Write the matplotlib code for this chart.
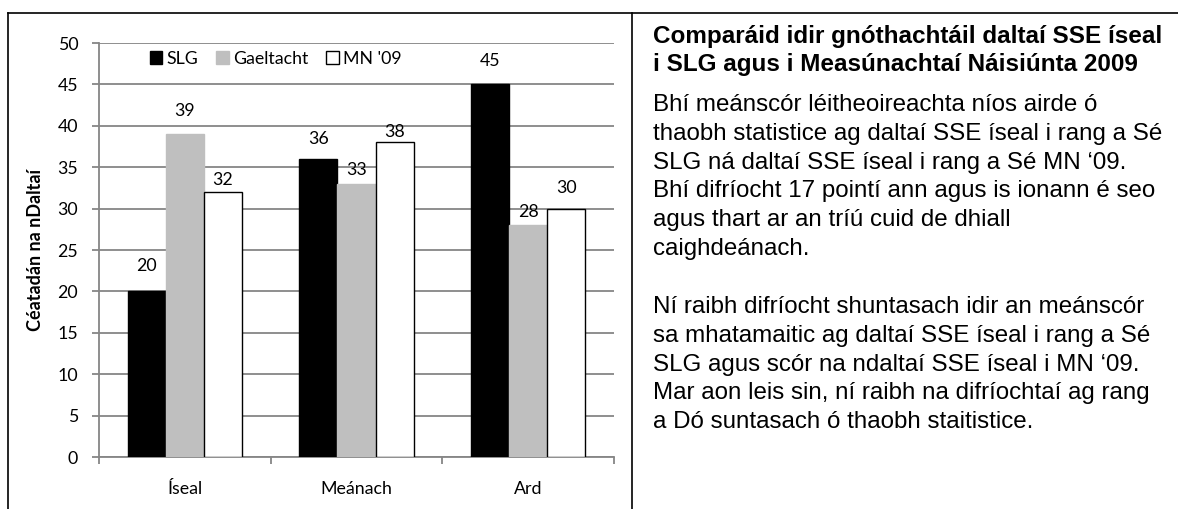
import matplotlib
matplotlib.use("Agg")
import matplotlib.pyplot as plt
from matplotlib.lines import Line2D
import numpy as np

categories = ["Íseal", "Meánach", "Ard"]
series_names = ["SLG", "Gaeltacht", "MN '09"]
slg = [20, 36, 45]
gaeltacht = [39, 33, 28]
mn09 = [32, 38, 30]

title_lines = [
    "Comparáid idir gnóthachtáil daltaí SSE íseal",
    "i SLG agus i Measúnachtaí Náisiúnta 2009",
]
para1_lines = [
    "Bhí meánscór léitheoireachta níos airde ó",
    "thaobh statistice ag daltaí SSE íseal i rang a Sé",
    "SLG ná daltaí SSE íseal i rang a Sé MN ‘09.",
    "Bhí difríocht 17 pointí ann agus is ionann é seo",
    "agus thart ar an tríú cuid de dhiall",
    "caighdeánach.",
]
para2_lines = [
    "Ní raibh difríocht shuntasach idir an meánscór",
    "sa mhatamaitic ag daltaí SSE íseal i rang a Sé",
    "SLG agus scór na ndaltaí SSE íseal i MN ‘09.",
    "Mar aon leis sin, ní raibh na difríochtaí ag rang",
    "a Dó suntasach ó thaobh staitistice.",
]

# label offsets above bar tops (pixels), as placed in the original
label_offsets = [[25, 20, 23], [23, 14, 13], [12, 10, 21]]

W, H = 1178, 509
fig = plt.figure(figsize=(W / 100, H / 100), dpi=100)
chart_font = "Lato"
fs = 12.8
grid_col = "#868686"

ax = fig.add_axes([99 / W, 1 - 457 / H, (614 - 99) / W, (457 - 43) / H])

x = np.arange(len(categories))
w = 0.222
series = [slg, gaeltacht, mn09]
faces = ["black", "#BFBFBF", "white"]
edges = ["black", "#BFBFBF", "black"]
for i, (vals, fc, ec, name) in enumerate(zip(series, faces, edges, series_names)):
    bars = ax.bar(x + (i - 1) * w, vals, width=w, color=fc, edgecolor=ec,
                  linewidth=1.0, label=name, zorder=3)
    for j, b in enumerate(bars):
        ax.annotate(str(vals[j]), (b.get_x() + b.get_width() / 2, b.get_height()),
                    xytext=(0, label_offsets[i][j] * 0.72), textcoords="offset points",
                    ha="center", va="center", fontsize=fs, family=chart_font)

ax.set_xlim(-0.5, 2.5)
ax.set_ylim(0, 50)
ax.set_yticks(range(0, 51, 5))
ax.yaxis.grid(True, color=grid_col, linewidth=1.3, zorder=0)
ax.set_axisbelow(True)
for s in ["top", "right"]:
    ax.spines[s].set_visible(False)
for s in ["left", "bottom"]:
    ax.spines[s].set_color(grid_col)
    ax.spines[s].set_linewidth(1.3)

ax.set_xticks([-0.5, 0.5, 1.5, 2.5])
ax.set_xticklabels([])
ax.set_xticks(x, minor=True)
ax.set_xticklabels(categories, minor=True, fontsize=fs, family=chart_font)
ax.tick_params(axis="x", which="major", length=5, width=1.3, color=grid_col)
ax.tick_params(axis="x", which="minor", length=0, pad=17)
ax.tick_params(axis="y", length=5, width=1.3, color=grid_col, pad=10)
for t in ax.get_yticklabels():
    t.set_fontsize(fs)
    t.set_family(chart_font)

ax.set_ylabel("Céatadán na nDaltaí", fontsize=13, fontweight="bold",
              family=chart_font)
ax.yaxis.set_label_coords((44 - 99) / 515, 0.5)

leg = ax.legend(loc="center left", bbox_to_anchor=(0.085, 0.962), ncol=3,
                frameon=False, handlelength=0.7, handleheight=0.7,
                handletextpad=0.25, columnspacing=1.0, borderaxespad=0,
                prop={"family": chart_font, "size": fs})

# frame lines
lc = "black"
fig.add_artist(Line2D([8 / W, 1], [1 - 13 / H] * 2, color=lc, lw=1.2))
fig.add_artist(Line2D([8 / W] * 2, [0, 1 - 13 / H], color=lc, lw=1.2))
fig.add_artist(Line2D([632 / W] * 2, [0, 1 - 13 / H], color=lc, lw=1.2))

tx = 653 / W
for k, line in enumerate(title_lines):
    fig.text(tx, 1 - (37 + 27.5 * k) / H, line, fontsize=17.5, fontweight="bold",
             family="Liberation Sans", va="center", ha="left")
for k, line in enumerate(para1_lines):
    fig.text(tx, 1 - (105 + 28.8 * k) / H, line, fontsize=17.4,
             family="Liberation Sans", va="center", ha="left")
for k, line in enumerate(para2_lines):
    fig.text(tx, 1 - (307 + 28.8 * k) / H, line, fontsize=17.4,
             family="Liberation Sans", va="center", ha="left")

fig.savefig("out.png", dpi=100)
